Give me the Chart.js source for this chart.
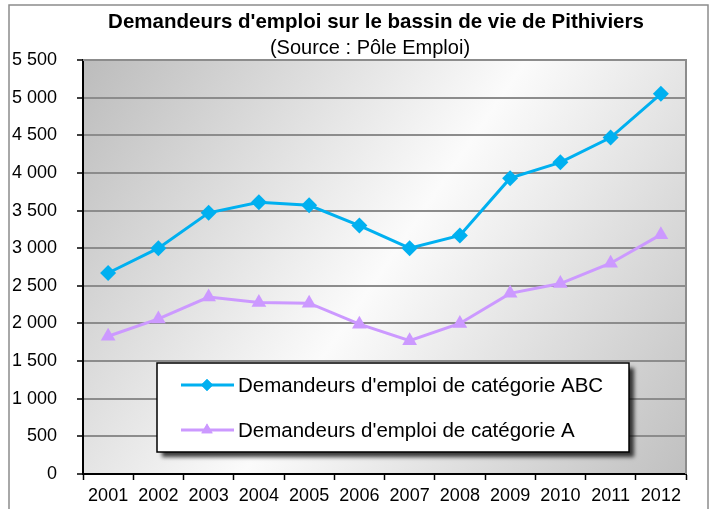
<!DOCTYPE html>
<html>
<head>
<meta charset="utf-8">
<script src="https://cdn.jsdelivr.net/npm/chart.js@4.4.1/dist/chart.umd.min.js"></script>
<style>
  html, body { margin: 0; padding: 0; background: #fff; }
  #wrap { width: 716px; height: 509px; position: relative; }
</style>
</head>
<body>
<div id="wrap"><canvas id="myChart"></canvas></div>
<script>
// chart data
const years = ['2001', '2002', '2003', '2004', '2005', '2006', '2007', '2008', '2009', '2010', '2011', '2012'];
const catABC = [2670, 3000, 3470, 3610, 3570, 3300, 3000, 3170, 3930, 4140, 4470, 5050];
const catA = [1830, 2060, 2350, 2280, 2270, 1990, 1770, 2000, 2400, 2530, 2800, 3180];
const seriesNames = ["Demandeurs d'emploi de catégorie ABC", "Demandeurs d'emploi de catégorie A"];
const titleText = "Demandeurs d'emploi sur le bassin de vie de Pithiviers";
const subtitleText = '(Source : Pôle Emploi)';
const yMin = 0, yMax = 5500, yStep = 500;

const FONT = '"Liberation Sans", Arial, sans-serif';

// space as thousands separator, like the original (5 500)
const fmt = v => String(v).replace(/\B(?=(\d{3})+(?!\d))/g, ' ');

// frame, plot background gradient, titles
const backdrop = {
  id: 'backdrop',
  beforeDraw(chart) {
    const { ctx, chartArea: a } = chart;
    ctx.save();
    ctx.strokeStyle = '#8c8c8c';
    ctx.lineWidth = 1.5;
    ctx.strokeRect(9, 5, 699, 530);

    const g = ctx.createLinearGradient(a.left, a.top, a.right, a.bottom);
    g.addColorStop(0, '#bcbcbc');
    g.addColorStop(0.5, '#fbfbfb');
    g.addColorStop(1, '#c0c0c0');
    ctx.fillStyle = g;
    ctx.fillRect(a.left, a.top, a.right - a.left, a.bottom - a.top);

    ctx.fillStyle = '#000';
    ctx.textAlign = 'center';
    ctx.textBaseline = 'middle';
    ctx.font = 'bold 20.5px ' + FONT;
    ctx.fillText(titleText, 376, 22);
    ctx.font = '20px ' + FONT;
    ctx.fillText(subtitleText, 370, 48);
    ctx.restore();
  },
  beforeDatasetsDraw(chart) {
    const { ctx, chartArea: a } = chart;
    ctx.save();
    ctx.strokeStyle = '#8c8c8c';
    ctx.lineWidth = 2;
    ctx.beginPath();
    ctx.moveTo(a.left, a.top);
    ctx.lineTo(a.right, a.top);
    ctx.lineTo(a.right, a.bottom);
    ctx.stroke();
    ctx.restore();
  }
};

// boxed legend with drop shadow, inside the plot
const boxLegend = {
  id: 'boxLegend',
  afterDraw(chart) {
    const { ctx } = chart;
    const bx = 157, by = 363, bw = 472, bh = 89;
    ctx.save();
    ctx.shadowColor = 'rgba(0,0,0,0.75)';
    ctx.shadowOffsetX = 5;
    ctx.shadowOffsetY = 5;
    ctx.shadowBlur = 4;
    ctx.fillStyle = '#fff';
    ctx.fillRect(bx, by, bw, bh);
    ctx.shadowColor = 'transparent';
    ctx.strokeStyle = '#000';
    ctx.lineWidth = 1.5;
    ctx.strokeRect(bx, by, bw, bh);

    chart.data.datasets.forEach((ds, i) => {
      const y = by + 22 + i * 45;
      ctx.strokeStyle = ds.borderColor;
      ctx.lineWidth = 3;
      ctx.beginPath();
      ctx.moveTo(181, y);
      ctx.lineTo(234, y);
      ctx.stroke();
      ctx.fillStyle = ds.backgroundColor;
      Chart.helpers.drawPoint(ctx, { pointStyle: ds.pointStyle, radius: ds.pointRadius - 2, borderWidth: 0 }, 207, y);
      ctx.fill();
      ctx.fillStyle = '#000';
      ctx.font = '20.5px ' + FONT;
      ctx.textAlign = 'left';
      ctx.textBaseline = 'middle';
      ctx.fillText(ds.label, 238, y + 1);
    });
    ctx.restore();
  }
};

const ctx = document.getElementById('myChart').getContext('2d');
const myChart = new Chart(ctx, {
  type: 'line',
  data: {
    labels: years,
    datasets: [
      {
        label: seriesNames[0],
        data: catABC,
        borderColor: '#00b0f0',
        backgroundColor: '#00b0f0',
        borderWidth: 3,
        pointStyle: 'rectRot',
        pointRadius: 8,
        pointBorderWidth: 0,
        tension: 0
      },
      {
        label: seriesNames[1],
        data: catA,
        borderColor: '#cc99ff',
        backgroundColor: '#cc99ff',
        borderWidth: 3,
        pointStyle: 'triangle',
        pointRadius: 8.5,
        pointBorderWidth: 0,
        tension: 0
      }
    ]
  },
  options: {
    responsive: true,
    maintainAspectRatio: false,
    animation: false,
    layout: { padding: { top: 60, right: 30, left: 0, bottom: 0 } },
    scales: {
      x: {
        offset: true,
        afterFit: s => { s.height = 35; },
        grid: {
          offset: true,
          drawOnChartArea: false,
          tickLength: 6,
          tickColor: '#000',
          tickWidth: 1.5
        },
        border: { color: '#000', width: 2 },
        ticks: {
          padding: 5,
          maxRotation: 0,
          autoSkip: false,
          color: '#000',
          font: { family: FONT, size: 18 }
        }
      },
      y: {
        min: yMin,
        max: yMax,
        afterFit: s => { s.width = 83; },
        grid: {
          color: '#8c8c8c',
          lineWidth: 2,
          tickLength: 6,
          tickColor: '#000',
          tickWidth: 1.5
        },
        border: { color: '#000', width: 2 },
        ticks: {
          stepSize: yStep,
          padding: 20,
          color: '#000',
          font: { family: FONT, size: 18 },
          callback: v => fmt(v)
        }
      }
    },
    plugins: {
      legend: { display: false },
      title: { display: false },
      tooltip: { enabled: false }
    }
  },
  plugins: [backdrop, boxLegend]
});
</script>
</body>
</html>
